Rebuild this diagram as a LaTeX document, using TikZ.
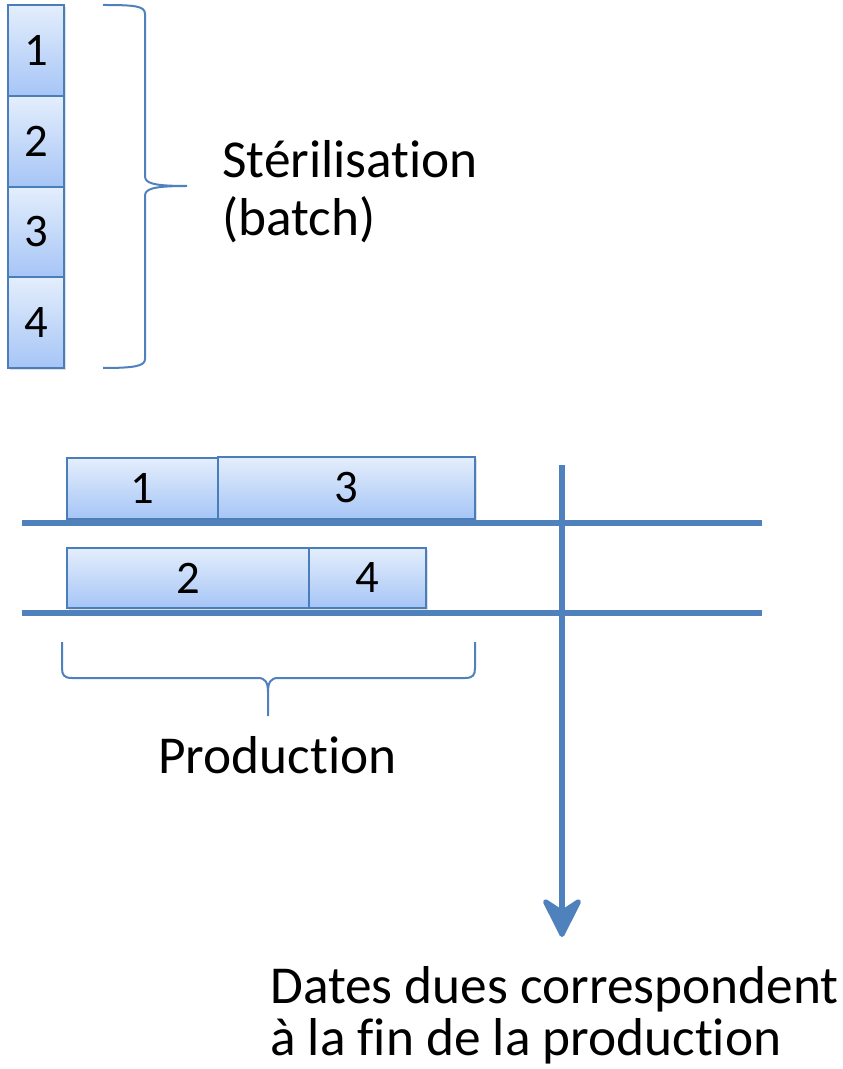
\documentclass[tikz,border=0pt]{standalone}
\usepackage{fontspec}
\setmainfont[Ligatures={NoCommon}]{Carlito}
\usetikzlibrary{arrows.meta,shadows}
\definecolor{edge}{HTML}{4F81BD}
\definecolor{boxtop}{HTML}{E4EEFC}
\definecolor{boxbot}{HTML}{A6C5F6}
\definecolor{boxline}{HTML}{4A7EBB}
\tikzset{
  job/.style={draw=boxline, line width=1.1pt, top color=boxtop, bottom color=boxbot,
    inner sep=0pt, font=\fontsize{35}{38}\selectfont,
    drop shadow={shadow xshift=1.2pt, shadow yshift=-1.5pt, opacity=0.25}},
  axis/.style={draw=edge, line width=3.8pt},
  brace/.style={draw=edge, line width=1.5pt},
  label/.style={font=\fontsize{40}{46}\selectfont, anchor=base west, inner sep=0pt}
}
\begin{document}
\begin{tikzpicture}[x=0.75pt,y=-0.75pt]
\useasboundingbox (0,0) rectangle (842,1069);
% sterilisation stack
\node[job, minimum width=42pt, minimum height=68.25pt] (s1) at (36,50.5) {1};
\node[job, minimum width=42pt, minimum height=68.25pt] (s2) at (36,141.5) {2};
\node[job, minimum width=42pt, minimum height=67.5pt] (s3) at (36,232) {3};
\node[job, minimum width=42pt, minimum height=68.25pt] (s4) at (36,322.5) {4};
% brace for sterilisation
\draw[brace] (103,5) .. controls (135,5) and (145,6) .. (145,14) -- (145,176)
  .. controls (145,183) and (152,186) .. (187,186)
  .. controls (152,186) and (145,189) .. (145,196) -- (145,359)
  .. controls (145,366) and (135,368) .. (103,368);
\node[label] (ster) at (222,178) {Stérilisation};
\node[label] (batch) at (222,236) {(batch)};
% production lines
\coordinate (l1a) at (22,523); \coordinate (l1b) at (762,523);
\coordinate (l2a) at (22,613); \coordinate (l2b) at (762,613);
\draw[axis] (l1a) -- (l1b);
\draw[axis] (l2a) -- (l2b);
\node[job, minimum width=113.25pt, minimum height=45.75pt] (p1) at (142.5,488.5) {1};
\node[job, minimum width=192.75pt, minimum height=46.5pt] (p3) at (346.5,488) {3};
\node[job, minimum width=181.5pt, minimum height=45pt] (p2) at (188,578) {2};
\node[job, minimum width=87.75pt, minimum height=45pt] (p4) at (367.5,578) {4};
% due date arrow
\coordinate (vt) at (562,465); \coordinate (vb) at (562,937);
\draw[axis, -{Stealth[length=34pt, width=34pt, inset=11pt, round]}] (vt) -- (vb);
% production brace
\draw[brace] (62,642) -- (62,668) .. controls (62,675) and (64,678) .. (72,678) -- (258,678)
  .. controls (265,678) and (268,682) .. (268,692) -- (268,716);
\draw[brace] (475,642) -- (475,668) .. controls (475,675) and (473,678) .. (465,678) -- (278,678)
  .. controls (271,678) and (268,682) .. (268,692);
\node[label] (prod) at (158,773) {Production};
\node[label] (due1) at (270,1003) {Dates dues correspondent};
\node[label] (due2) at (270,1055) {à la fin de la production};
\end{tikzpicture}
\end{document}
